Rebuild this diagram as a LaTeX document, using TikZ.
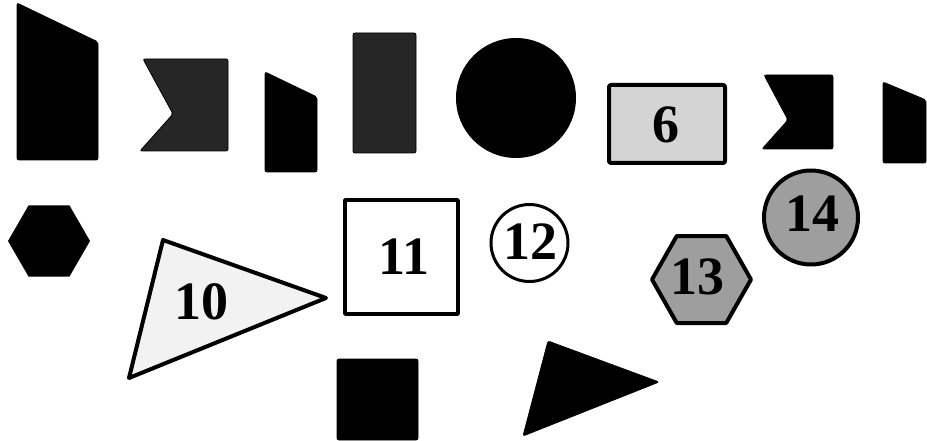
\documentclass[tikz,border=0pt]{standalone}
\usepackage{fontspec}
\setmainfont{Liberation Serif}
\usetikzlibrary{shapes.geometric}
\begin{document}
\begin{tikzpicture}[x=1pt,y=-1pt,
  solid/.style={fill=black, draw=black, line width=0.8pt, rounded corners=2pt},
  darkfill/.style={fill=black!85, draw=black, line width=0.8pt, rounded corners=2pt},
  outl/.style={draw=black, line width=4pt, line join=round},
  num/.style={font=\fontsize{54}{54}\bfseries\selectfont, inner sep=0pt}]
\useasboundingbox (0,0) rectangle (927,441);
\fill[white] (0,0) rectangle (927,441);
% top row
\draw[solid] (17,3) -- (98,42) -- (98,160) -- (17,160) -- cycle;
\draw[darkfill] (143,59) -- (228,59) -- (228,151) -- (140,151) -- (173,114) -- cycle;
\draw[solid] (265,72) -- (317,97) -- (317,172) -- (265,172) -- cycle;
\draw[darkfill] (353,33) rectangle (416,153);
\fill[black] (516,98) circle (60);
\draw[outl, fill=black!17, rounded corners=2pt] (609,85) rectangle (725,163);
\node[num] (n6) at (666,125) {6};
\draw[solid] (764,75) -- (833,75) -- (833,149) -- (762,149) -- (788,120) -- cycle;
\draw[solid] (883,82) -- (926,100) -- (926,163) -- (883,163) -- cycle;
% middle row
\fill[black] (49,241) ++(-41,0) -- ++(20.5,-35.5) -- ++(41,0) -- ++(20.5,35.5) -- ++(-20.5,35.5) -- ++(-41,0) -- cycle;
\draw[outl, fill=black!5] (163,240) -- (326,298) -- (129,378) -- cycle;
\node[num] (n10) at (201,302) {10};
\draw[outl, line width=3.5pt, fill=white] (345,200) rectangle (458,314);
\node[num] (n11) at (404,257) {11};
\draw[black, line width=3pt, fill=white] (529.5,243) circle (38.5);
\node[num] (n12) at (530,242) {12};
\draw[outl, fill=black!38] (701.5,279.5) ++(-49.5,0) -- ++(24.75,-43.5) -- ++(49.5,0) -- ++(24.75,43.5) -- ++(-24.75,43.5) -- ++(-49.5,0) -- cycle;
\node[num] (n13) at (697,277) {13};
\draw[black, line width=4pt, fill=black!38] (811,217.5) circle (47);
\node[num] (n14) at (812,214) {14};
% bottom row
\draw[solid] (337,359) rectangle (418,440);
\draw[solid] (548,341) -- (659,382) -- (523,436) -- cycle;
\end{tikzpicture}
\end{document}
